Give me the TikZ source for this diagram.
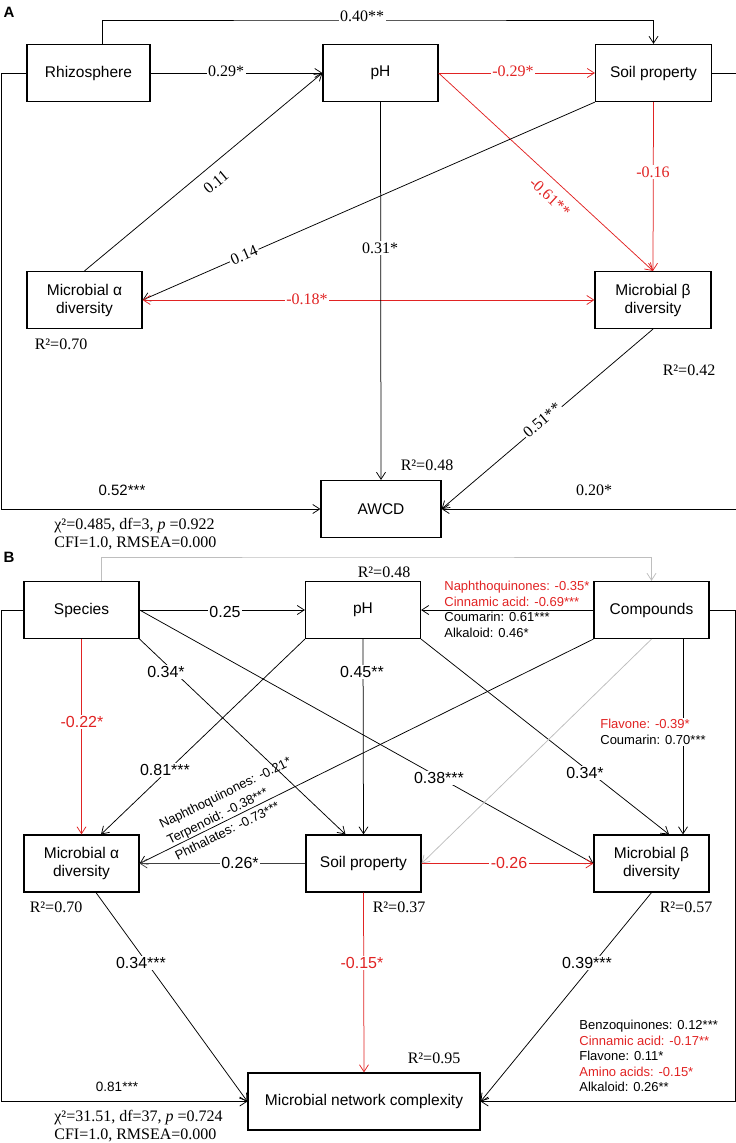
\documentclass[tikz,border=0pt]{standalone}
\usepackage{fontspec}
\setmainfont{Liberation Sans}
\newfontfamily\tnr{Liberation Serif}
\usetikzlibrary{arrows.meta}
\definecolor{pathred}{RGB}{225,35,35}
\definecolor{pathgrey}{RGB}{190,190,190}
\tikzset{
  >={Straight Barb[length=7pt,width=9pt]},
  box/.style={draw, line width=1.2pt, minimum width=115pt, minimum height=57pt, align=center, font=\fontsize{15.5}{18}\selectfont},
  link/.style={line width=0.75pt},
  coef/.style={font=\tnr\fontsize{16}{18}\selectfont, inner sep=1.5pt},
  coefsf/.style={font=\fontsize{16}{18}\selectfont, inner sep=1.5pt},
  gap/.style={fill=white},
  rsq/.style={font=\tnr\fontsize{16}{18}\selectfont},
  listlab/.style={font=\fontsize{13}{15.6}\selectfont, align=left, anchor=west, inner sep=0pt},
  tag/.style={font=\bfseries\fontsize{15}{18}\selectfont}
}
\begin{document}
\begin{tikzpicture}[x=1pt, y=-1pt, every path/.style={link}]
\useasboundingbox (0,0) rectangle (736,1143);
% panel A
\node[tag] (tagA) at (9,12) {A};
\node[box, minimum width=123pt] (rhizo) at (88.5,73) {Rhizosphere};
\node[box] (phA) at (380.5,73) {pH};
\node[box, minimum width=116pt] (soilA) at (653.5,73) {Soil property};
\node[box] (alphaA) at (84.5,300) {Microbial α\\diversity};
\node[box, minimum width=116pt] (betaA) at (653,300) {Microbial β\\diversity};
\node[box, minimum width=120pt] (awcd) at (381,509) {AWCD};
% paths of panel A
\coordinate (topA) at (362,20);
\draw[->] ([xshift=13.5pt]rhizo.north) |- (topA) -| (soilA.north);
\draw[->] (rhizo.east) -- (phA.west);
\draw[->] (alphaA.north) -- (phA.west);
\draw[->, pathred] (phA.east) -- (soilA.west);
\draw[->, pathred] (phA.east) -- (betaA.north);
\draw[->, pathred] (soilA.south) -- (betaA.north);
\draw[->] (soilA.south west) -- (alphaA.east);
\draw[<->, pathred] (alphaA.east) -- (betaA.west);
\draw[->] (phA.south) -- (awcd.north);
\draw[->] (betaA.south) -- (awcd.east);
\draw[->] (rhizo.west) -- ++(-25,0) |- (awcd.west);
\draw[->] (soilA.east) -- ++(24,0) |- (awcd.east);
% coefficients of panel A
\node[coef, gap] (l040) at (362,16) {0.40**};
\node[coef, gap] (l029a) at (226,71) {0.29*};
\node[coef, gap, text=pathred] (l029b) at (513,71) {-0.29*};
\node[coef, rotate=40] (l011) at (216,182) {0.11};
\node[coef, gap, rotate=23.6] (l014) at (244,255) {0.14};
\node[coef, gap] (l031) at (380,248) {0.31*};
\node[coef, text=pathred, rotate=-42.8] (l061) at (550,197) {-0.61**};
\node[coef, gap, text=pathred] (l016) at (653,172) {-0.16};
\node[coef, gap, text=pathred] (l018) at (307,299) {-0.18*};
\node[coef, gap, rotate=40.5] (l051) at (542,420) {0.51**};
\node[font=\fontsize{15}{18}\selectfont] (l052) at (122,490) {0.52***};
\node[coef] (l020) at (594,490) {0.20*};
\node[rsq] (r2alphaA) at (61,344) {R²=0.70};
\node[rsq] (r2betaA) at (689,370) {R²=0.42};
\node[rsq] (r2awcd) at (427,465) {R²=0.48};
\node[rsq, align=left, anchor=west, inner sep=0pt] (fitA) at (54,534) {χ²=0.485, df=3, \textit{p} =0.922\\CFI=1.0, RMSEA=0.000};

% panel B
\node[tag] (tagB) at (9,557) {B};
\node[box] (species) at (81.5,610) {Species};
\node[box] (phB) at (363,610) {pH};
\node[box] (comp) at (651.5,610) {Compounds};
\node[box] (alphaB) at (81.5,863.5) {Microbial α\\diversity};
\node[box] (soilB) at (363.5,863.5) {Soil property};
\node[box] (betaB) at (651.5,863.5) {Microbial β\\diversity};
\node[box, minimum width=232pt] (net) at (364,1101.5) {Microbial network complexity};
% paths of panel B
\coordinate (topB) at (380,557);
\draw[->, pathgrey] ([xshift=19.5pt]species.north) |- (topB) -| (comp.north);
\draw[->] (species.east) -- (phB.west);
\draw[->] (comp.west) -- (phB.east);
\draw[->, pathred] (species.south) -- (alphaB.north);
\draw[->] (species.south east) -- ([xshift=-18pt]soilB.north);
\draw[->] (species.east) -- (betaB.west);
\draw[->] (phB.south west) -- ([xshift=19.5pt]alphaB.north);
\draw[->] (phB.south) -- (soilB.north);
\draw[->] (phB.south east) -- ([xshift=17.5pt]betaB.north);
\draw[->] (comp.south west) -- (alphaB.east);
\draw[->, pathgrey] (comp.south) -- (soilB.east);
\draw[->] ([xshift=31.5pt]comp.south) -- ([xshift=31.5pt]betaB.north);
\draw[->, black!75] (soilB.west) -- (alphaB.east);
\draw[->, pathred] (soilB.east) -- (betaB.west);
\draw[->] ([xshift=14.5pt]alphaB.south) -- (net.west);
\draw[->, pathred] (soilB.south) -- (net.north);
\draw[->] (betaB.south) -- (net.east);
\draw[->] (species.west) -- ++(-22.5,0) |- (net.west);
\draw[->] (comp.east) -- ++(26,0) |- (net.east);
% coefficients of panel B
\node[rsq] (r2phB) at (384,572) {R²=0.48};
\node[coefsf, gap] (l025) at (225,612) {0.25};
\node[listlab] (lph) at (444,609.5) {\textcolor{pathred}{Naphthoquinones: -0.35*}\\\textcolor{pathred}{Cinnamic acid: -0.69***}\\Coumarin: 0.61***\\Alkaloid: 0.46*};
\node[coefsf, gap, text=pathred] (l022) at (82,722) {-0.22*};
\node[coefsf, gap] (l034a) at (166,672) {0.34*};
\node[coefsf, gap] (l045) at (362,672) {0.45**};
\node[coefsf, gap] (l081a) at (165,770) {0.81***};
\node[coefsf, gap] (l038) at (439,778) {0.38***};
\node[coefsf, gap] (l034b) at (585,773) {0.34*};
\node[listlab, font=\fontsize{13}{17.5}\selectfont, rotate=26.3] (lalpha) at (167.6,840.5) {Naphthoquinones: -0.21*\\Terpenoid: -0.38***\\Phthalates: -0.73***};
\node[listlab, fill=white, inner sep=1pt, font=\fontsize{13}{16}\selectfont] (lbeta) at (599,732) {\textcolor{pathred}{Flavone: -0.39*}\\Coumarin: 0.70***};
\node[coefsf, gap] (l026a) at (240,863) {0.26*};
\node[coefsf, gap, text=pathred] (l026b) at (509,863) {-0.26};
\node[rsq] (r2alphaB) at (56,907) {R²=0.70};
\node[rsq] (r2soilB) at (399,907) {R²=0.37};
\node[rsq] (r2betaB) at (686,907) {R²=0.57};
\node[coefsf, gap] (l034c) at (141,963) {0.34***};
\node[coefsf, gap, text=pathred] (l015) at (362,963) {-0.15*};
\node[coefsf, gap] (l039) at (587,963) {0.39***};
\node[rsq] (r2net) at (434,1058) {R²=0.95};
\node[font=\fontsize{13.5}{16}\selectfont] (l081b) at (117,1087) {0.81***};
\node[listlab, font=\fontsize{13}{15.5}\selectfont] (lnet) at (579,1056) {Benzoquinones: 0.12***\\\textcolor{pathred}{Cinnamic acid: -0.17**}\\Flavone: 0.11*\\\textcolor{pathred}{Amino acids: -0.15*}\\Alkaloid: 0.26**};
\node[rsq, align=left, anchor=west, inner sep=0pt] (fitB) at (54,1126) {χ²=31.51, df=37, \textit{p} =0.724\\CFI=1.0, RMSEA=0.000};
\end{tikzpicture}
\end{document}
